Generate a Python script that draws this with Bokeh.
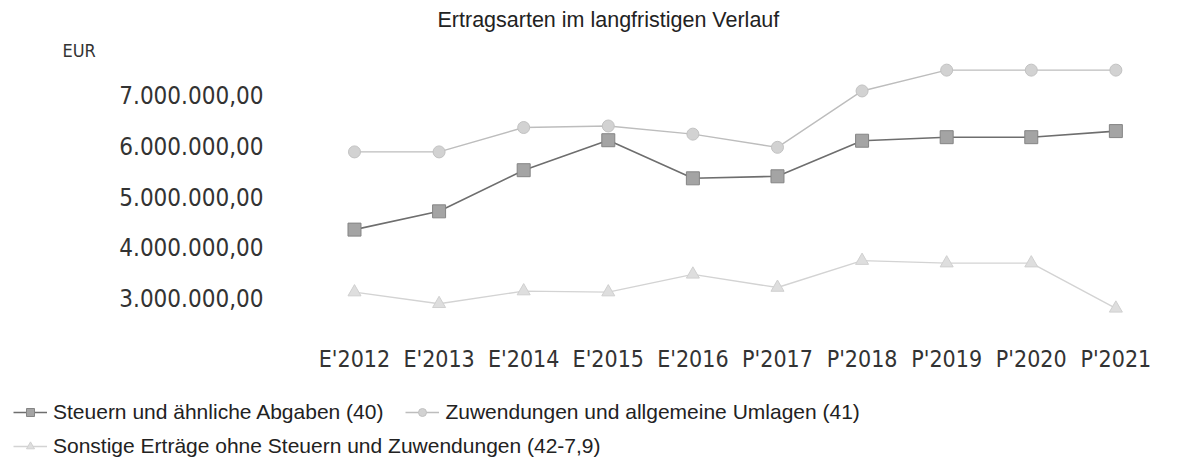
from bokeh.plotting import figure
from bokeh.models import Range1d, FixedTicker, Legend, LegendItem, Label
from bokeh.embed import file_html
from bokeh.resources import INLINE

# ---- data ----
categories = ["E'2012", "E'2013", "E'2014", "E'2015", "E'2016",
              "P'2017", "P'2018", "P'2019", "P'2020", "P'2021"]
steuern = [4.35e6, 4.71e6, 5.52e6, 6.11e6, 5.36e6, 5.40e6, 6.10e6, 6.17e6, 6.17e6, 6.29e6]
zuwendungen = [5.88e6, 5.88e6, 6.36e6, 6.39e6, 6.23e6, 5.97e6, 7.08e6, 7.49e6, 7.49e6, 7.49e6]
sonstige = [3.12e6, 2.89e6, 3.14e6, 3.12e6, 3.47e6, 3.21e6, 3.74e6, 3.69e6, 3.69e6, 2.80e6]
y_ticks = [3e6, 4e6, 5e6, 6e6, 7e6]
series_names = ["Steuern und ähnliche Abgaben (40)",
                "Zuwendungen und allgemeine Umlagen (41)",
                "Sonstige Erträge ohne Steuern und Zuwendungen (42-7,9)"]


def de_fmt(v):
    return f"{v:,.2f}".replace(",", "X").replace(".", ",").replace("X", ".")


xs = list(range(len(categories)))
TICK_FONT = "DejaVu Sans Condensed, DejaVu Sans"
TEXT_FONT = "Liberation Sans"

# plot frame spans the canvas; axes are pinned inside it with fixed_location
X_START, X_END = -4.1844, 9.764
Y_START, Y_END = -0.215e6, 8.152e6
Y_AXIS_AT = -0.993       # x value where the value axis sits
X_AXIS_AT = 2.6594e6     # y value where the category axis sits

p = figure(width=1192, height=461, output_backend="svg", toolbar_location=None,
           x_range=Range1d(X_START, X_END), y_range=Range1d(Y_START, Y_END),
           min_border_left=0, min_border_right=12, min_border_top=36,
           min_border_bottom=0)
p.outline_line_color = None
p.grid.visible = False

p.title.text = "Ertragsarten im langfristigen Verlauf"
p.title.align = "left"
p.title.offset = 437
p.title.text_font = TEXT_FONT
p.title.text_font_size = "21.5px"
p.title.text_font_style = "normal"
p.title.text_color = "#222222"
p.title.standoff = 9

p.yaxis.ticker = FixedTicker(ticks=y_ticks)
p.yaxis.major_label_overrides = {v: de_fmt(v) for v in y_ticks}
p.yaxis.fixed_location = Y_AXIS_AT
p.xaxis.ticker = FixedTicker(ticks=xs)
p.xaxis.major_label_overrides = {i: c for i, c in zip(xs, categories)}
p.xaxis.fixed_location = X_AXIS_AT

for ax in (p.xaxis[0], p.yaxis[0]):
    ax.axis_line_color = None
    ax.major_tick_line_color = None
    ax.minor_tick_line_color = None
    ax.major_label_text_font = TICK_FONT
    ax.major_label_text_color = "#333333"
p.yaxis[0].major_label_text_font_size = "24px"
p.xaxis[0].major_label_text_font_size = "23px"
p.yaxis[0].major_label_standoff = 1
p.xaxis[0].major_label_standoff = 25

p.add_layout(Label(x=62, y=411, x_units="screen", y_units="screen", text="EUR",
                   text_font=TICK_FONT, text_font_size="18px", text_color="#333333",
                   text_baseline="middle", text_align="left"))

styles = [
    dict(line=dict(line_color="#6e6e6e", line_width=1.6),
         marker=dict(marker="square", size=13, fill_color="#a4a4a4", line_color="#858585")),
    dict(line=dict(line_color="#bdbdbd", line_width=1.4),
         marker=dict(marker="circle", size=12, fill_color="#d2d2d2", line_color="#c2c2c2")),
    dict(line=dict(line_color="#d3d3d3", line_width=1.4),
         marker=dict(marker="triangle", size=13, fill_color="#dedede", line_color="#d0d0d0")),
]

items = []
for name, vals, st in zip(series_names, [steuern, zuwendungen, sonstige], styles):
    rl = p.line(xs, vals, **st["line"])
    rm = p.scatter(xs, vals, line_width=1, **st["marker"])
    items.append(LegendItem(label=name, renderers=[rl, rm]))

common = dict(padding=0, margin=0, border_line_color=None, background_fill_alpha=0,
              label_text_font=TEXT_FONT, label_text_font_size="21px",
              label_text_color="#222222", glyph_width=34, glyph_height=20,
              label_standoff=6, spacing=22, orientation="horizontal")
p.add_layout(Legend(items=items[:2], location=(13, 37), **common))
p.add_layout(Legend(items=items[2:], location=(13, 3), **common))

open("out.html", "w").write(file_html(p, INLINE))
